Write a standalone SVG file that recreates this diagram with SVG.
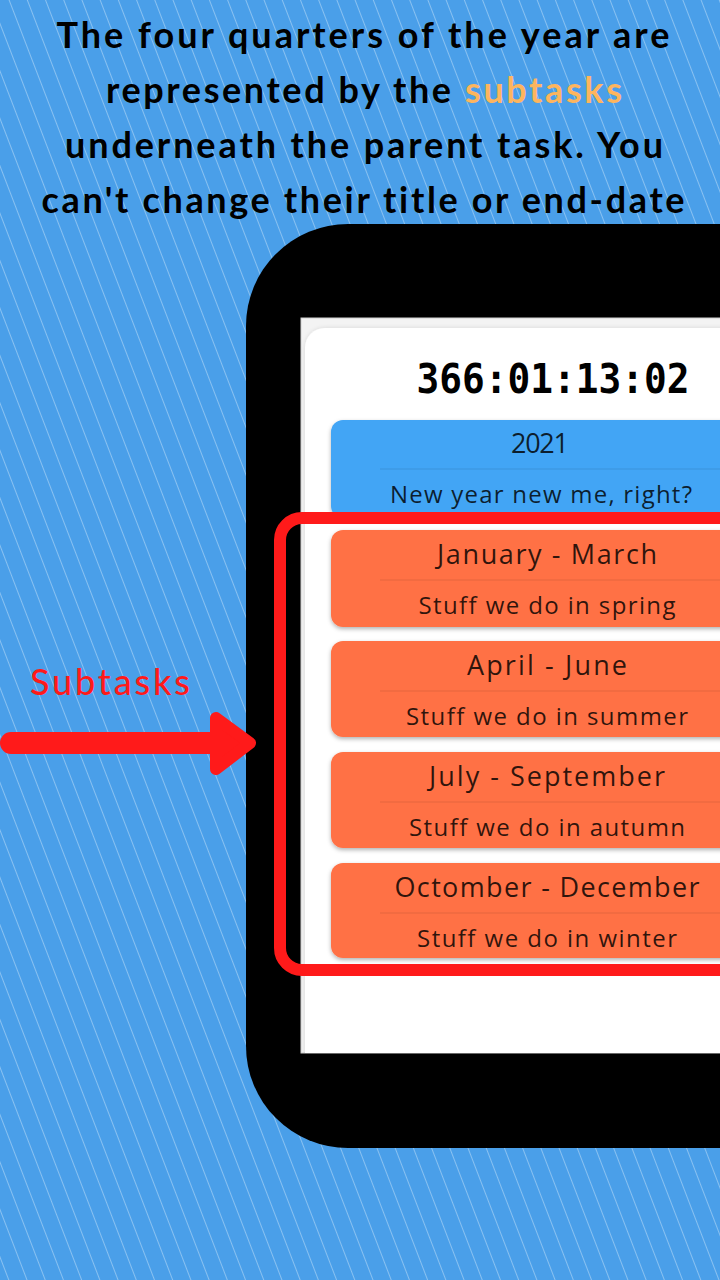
<svg xmlns="http://www.w3.org/2000/svg" width="720" height="1280" viewBox="0 0 720 1280">
  <defs>
    <pattern id="stripes" patternUnits="userSpaceOnUse" width="17" height="17" patternTransform="rotate(-21)">
      <rect width="17" height="17" fill="#4A9FE9"/>
      <line x1="8.5" y1="0" x2="8.5" y2="17" stroke="#ffffff" stroke-opacity="0.35" stroke-width="1"/>
    </pattern>
    <filter id="shadow" x="-10%" y="-20%" width="120%" height="150%">
      <feDropShadow dx="0" dy="2" stdDeviation="2" flood-color="#000" flood-opacity="0.3"/>
    </filter>
    <filter id="softshadow" x="-10%" y="-10%" width="120%" height="120%">
      <feDropShadow dx="0" dy="0" stdDeviation="2" flood-color="#000" flood-opacity="0.12"/>
    </filter>
    <clipPath id="screenClip">
      <rect x="301" y="318" width="440" height="735"/>
    </clipPath>
  </defs>
  <style>
    text { font-variant-ligatures: none; }
    .head { font-family: "Lato", "Liberation Sans", sans-serif; font-weight: 700; font-size: 36px; fill: #000; }
    .title { font-family: "Open Sans", "Liberation Sans", sans-serif; font-size: 27px; fill: #000; fill-opacity: 0.82; }
    .sub { font-family: "Open Sans", "Liberation Sans", sans-serif; font-size: 24px; fill: #000; fill-opacity: 0.82; }
    .sep { stroke: #000; stroke-opacity: 0.1; stroke-width: 1; }
    .orange { fill: #FF7145; }
  </style>

  <rect width="720" height="1280" fill="url(#stripes)"/>

  <g id="header">
    <text class="head" x="363" y="48" text-anchor="middle" textLength="613" lengthAdjust="spacing">The four quarters of the year are</text>
    <text class="head" x="364" y="103" text-anchor="middle" textLength="516" lengthAdjust="spacing">represented by the <tspan fill="#FDB55E">subtasks</tspan></text>
    <text class="head" x="364" y="158" text-anchor="middle" textLength="598" lengthAdjust="spacing">underneath the parent task. You</text>
    <text class="head" x="363" y="213" text-anchor="middle" textLength="643" lengthAdjust="spacing">can't change their title or end-date</text>
  </g>

  <g id="phone">
    <rect x="246" y="224" width="600" height="924" rx="102" fill="#000"/>
    <rect x="301" y="318" width="440" height="735" fill="#f3f3f3" stroke="#cfcfcf" stroke-width="1"/>
    <g clip-path="url(#screenClip)">
      <rect x="305" y="328" width="440" height="760" rx="20" fill="#fff" filter="url(#softshadow)"/>
    </g>
  </g>

  <g id="timer">
    <text x="553" y="393" text-anchor="middle" font-family="DejaVu Sans Mono, Liberation Mono, monospace" font-weight="700" font-size="40" textLength="273" lengthAdjust="spacingAndGlyphs" fill="#000">366:01:13:02</text>
  </g>

  <g id="parent-task">
    <rect x="331" y="420" width="420" height="98" rx="12" fill="#42A5F5" filter="url(#shadow)"/>
    <text class="title" x="540" y="453" text-anchor="middle" textLength="58" lengthAdjust="spacing">2021</text>
    <line class="sep" x1="380" y1="469" x2="720" y2="469"/>
    <text class="sub" x="541" y="503" text-anchor="middle" textLength="302" lengthAdjust="spacing">New year new me, right?</text>
  </g>

  <g id="subtask-1">
    <rect class="orange" x="331" y="530" width="420" height="97" rx="12" filter="url(#shadow)"/>
    <text class="title" x="547" y="564" text-anchor="middle" textLength="220" lengthAdjust="spacing">January - March</text>
    <line class="sep" x1="380" y1="580" x2="720" y2="580"/>
    <text class="sub" x="547" y="614" text-anchor="middle" textLength="257" lengthAdjust="spacing">Stuff we do in spring</text>
  </g>

  <g id="subtask-2">
    <rect class="orange" x="331" y="641" width="420" height="96" rx="12" filter="url(#shadow)"/>
    <text class="title" x="547" y="675" text-anchor="middle" textLength="160" lengthAdjust="spacing">April - June</text>
    <line class="sep" x1="380" y1="691" x2="720" y2="691"/>
    <text class="sub" x="547" y="725" text-anchor="middle" textLength="282" lengthAdjust="spacing">Stuff we do in summer</text>
  </g>

  <g id="subtask-3">
    <rect class="orange" x="331" y="752" width="420" height="96" rx="12" filter="url(#shadow)"/>
    <text class="title" x="547" y="786" text-anchor="middle" textLength="236" lengthAdjust="spacing">July - September</text>
    <line class="sep" x1="380" y1="802" x2="720" y2="802"/>
    <text class="sub" x="547" y="836" text-anchor="middle" textLength="276" lengthAdjust="spacing">Stuff we do in autumn</text>
  </g>

  <g id="subtask-4">
    <rect class="orange" x="331" y="863" width="420" height="95" rx="12" filter="url(#shadow)"/>
    <text class="title" x="547" y="897" text-anchor="middle" textLength="305" lengthAdjust="spacing">Octomber - December</text>
    <line class="sep" x1="380" y1="913" x2="720" y2="913"/>
    <text class="sub" x="547" y="947" text-anchor="middle" textLength="260" lengthAdjust="spacing">Stuff we do in winter</text>
  </g>

  <g id="subtasks-highlight">
    <rect x="280" y="518" width="470" height="452" rx="22" fill="none" stroke="#FF1A1A" stroke-width="12"/>
  </g>

  <g id="subtasks-label">
    <text x="110" y="695" text-anchor="middle" font-family="Lato, Liberation Sans, sans-serif" font-weight="500" font-size="36" textLength="160" lengthAdjust="spacing" fill="#FF1A1A">Subtasks</text>
  </g>

  <g id="connectors">
    <line x1="11" y1="743" x2="222" y2="743" stroke="#FF1A1A" stroke-width="22" stroke-linecap="round"/>
    <polygon points="216,718 250,743 216,769" fill="#FF1A1A" stroke="#FF1A1A" stroke-width="12" stroke-linejoin="round"/>
  </g>
</svg>
